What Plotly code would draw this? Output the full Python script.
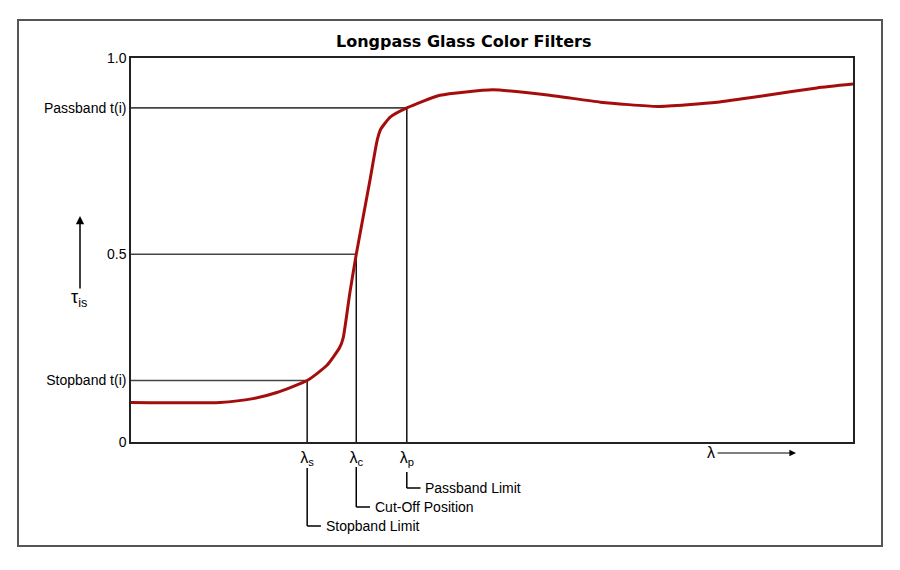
import plotly.graph_objects as go

# transmission curve of a longpass filter (schematic), x in arbitrary wavelength units 0..100
wl = [0, 12.3, 16.9, 20.2, 24.4, 27.1, 28.9, 29.4, 30.3, 31.2, 33.1, 34.1, 34.6,
      35.9, 38.2, 42.8, 50.1, 58.0, 65.0, 72.9, 81.2, 88.1, 95.0, 100]
tau = [0.103, 0.103, 0.113, 0.129, 0.160, 0.199, 0.246, 0.272, 0.387, 0.489, 0.682,
       0.786, 0.815, 0.846, 0.870, 0.903, 0.917, 0.903, 0.885, 0.874, 0.885, 0.903, 0.922, 0.932]

# characteristic points: stopband limit, cut-off, passband limit
mark_x = [24.4, 31.2, 38.2]
mark_y = [0.160, 0.489, 0.870]
mark_sub = ['s', 'c', 'p']
mark_names = ['Stopband Limit', 'Cut-Off Position', 'Passband Limit']

ytick_vals = [0, 0.160, 0.489, 0.870, 1.0]
ytick_text = ['0', 'Stopband t(i)', '0.5', 'Passband t(i)', '1.0']

# the page body has an 8px margin, so the figure is made 8px smaller
W, H = 892, 562
L, R, T, B = 123, 47, 50, 128
ph = H - T - B
pw = W - L - R
OFF = 8

def py(p):  # page pixel row -> paper y
    return (OFF + T + ph - p) / ph

def px(p):  # page pixel col -> paper x
    return (p - OFF - L) / pw

fig = go.Figure()

# guide lines to the axes
for xv, yv in zip(mark_x, mark_y):
    fig.add_trace(go.Scatter(x=[0, xv], y=[yv, yv], mode='lines',
                             line=dict(color='#444444', width=1.6), hoverinfo='skip'))
    fig.add_trace(go.Scatter(x=[xv, xv], y=[0, yv], mode='lines',
                             line=dict(color='#111111', width=1.5), hoverinfo='skip'))

fig.add_trace(go.Scatter(x=wl, y=tau, mode='lines',
                         line=dict(color='#a50d0d', width=3, shape='spline', smoothing=0.5)))

# brackets under the lambda labels
tops = [468, 467, 472]
bots = [526, 507, 488]
for xv, t0, b0, name in zip(mark_x, tops, bots, mark_names):
    fig.add_shape(type='line', xref='x', yref='paper', x0=xv, x1=xv, y0=py(t0), y1=py(b0),
                  line=dict(color='black', width=1.5))
    fig.add_shape(type='line', xref='x', yref='paper', x0=xv, x1=xv + 1.9, y0=py(b0), y1=py(b0),
                  line=dict(color='black', width=1.5))
    fig.add_annotation(x=xv + 2.3, y=py(b0), xref='x', yref='paper', text=name,
                       showarrow=False, xanchor='left', yanchor='middle',
                       font=dict(size=14, color='black'))

# outer frame
fig.add_shape(type='rect', xref='paper', yref='paper', x0=px(18), x1=px(882), y0=py(546), y1=py(20),
              line=dict(color='#555555', width=2))

# title
fig.add_annotation(x=px(463), y=py(42), xref='paper', yref='paper', showarrow=False,
                   xanchor='center', yanchor='middle',
                   text='<b>Longpass Glass Color Filters</b>',
                   font=dict(family='DejaVu Sans', size=16, color='black'))

# axis arrows and symbols
fig.add_annotation(x=px(80), y=py(216), xref='paper', yref='paper', text='', showarrow=True,
                   ax=0, ay=74, arrowhead=2, arrowsize=1.1, arrowwidth=1.5, arrowcolor='black')
fig.add_annotation(x=px(79), y=py(298), xref='paper', yref='paper', showarrow=False,
                   xanchor='center', yanchor='middle',
                   text='τ<sub>is</sub>', font=dict(size=18, color='black'))
fig.add_annotation(x=px(796), y=py(453), xref='paper', yref='paper', text='', showarrow=True,
                   ax=-80, ay=0, arrowhead=2, arrowsize=1.1, arrowwidth=1.2, arrowcolor='black')
fig.add_annotation(x=px(711), y=py(452), xref='paper', yref='paper', showarrow=False,
                   xanchor='center', yanchor='middle',
                   text='λ', font=dict(size=16, color='black'))

fig.update_xaxes(range=[0, 100], showgrid=False, zeroline=False, showline=True, mirror=True,
                 linecolor='#222222', linewidth=1.8, tickvals=mark_x,
                 ticktext=['λ<sub>%s</sub>' % s for s in mark_sub], ticks='',
                 tickfont=dict(size=16, color='black'))
fig.update_yaxes(range=[0, 1], showgrid=False, zeroline=False, showline=True, mirror=True,
                 linecolor='#222222', linewidth=1.5, tickvals=ytick_vals, ticktext=ytick_text,
                 ticks='', tickfont=dict(size=14, color='black'))

fig.update_layout(width=W, height=H, margin=dict(l=L, r=R, t=T, b=B),
                  plot_bgcolor='white', paper_bgcolor='white', showlegend=False,
                  font=dict(family='Liberation Sans'))

fig.write_html("out.html")
